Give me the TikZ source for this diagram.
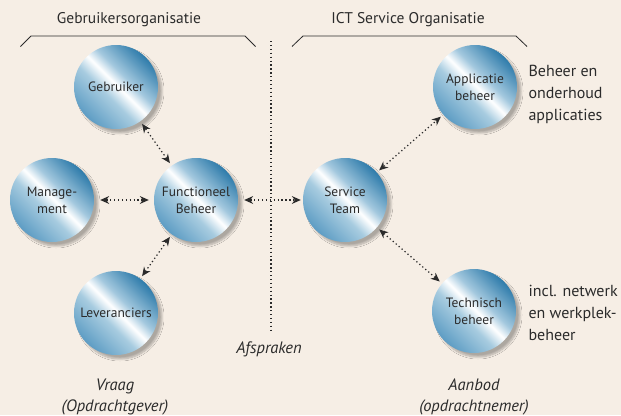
\documentclass[tikz,border=0pt]{standalone}
\usepackage{fontspec}
\setmainfont{PT Sans}
\usetikzlibrary{arrows.meta,shadows.blur}

\definecolor{bg}{HTML}{F6EEE5}
\definecolor{txt}{HTML}{2B2B2B}
\definecolor{ballsw}{HTML}{5E9DC4}
\definecolor{balllt}{HTML}{A8CCE0}
\definecolor{balllt2}{HTML}{A3C8DE}
\definecolor{ballne}{HTML}{2F7CAB}

% diagonal metallic sheen for the circles
\pgfdeclarehorizontalshading{ballshade}{100bp}{%
  color(0bp)=(ballsw); color(25bp)=(ballsw); color(43bp)=(balllt);
  color(51bp)=(white); color(58bp)=(balllt2); color(75bp)=(ballne);
  color(100bp)=(ballne)}

\tikzset{
  ball/.style={circle, minimum size=84pt, inner sep=0pt, shading=ballshade,
    shading angle=45, align=center, text=txt,
    font=\fontsize{13.5}{17}\selectfont,
    blur shadow={shadow xshift=4pt, shadow yshift=-4pt,
      shadow blur steps=8, shadow opacity=30}},
  dots/.style={draw=txt, line width=1.2pt, dash pattern=on 1.3pt off 2.6pt},
  link/.style={dots,
    {Stealth[length=9pt,width=8pt,line width=0pt]}-{Stealth[length=9pt,width=8pt,line width=0pt]},
    shorten <=3pt, shorten >=3pt},
  bracket/.style={draw=txt, line width=0.8pt},
  title/.style={text=txt, font=\fontsize{15.5}{18}\selectfont},
  side/.style={text=txt, align=left, anchor=west,
    font=\fontsize{16}{22}\selectfont},
  note/.style={text=txt, align=center, font=\fontsize{16.5}{21}\selectfont\itshape}
}

\begin{document}
\begin{tikzpicture}[x=1pt,y=-1pt]
  \fill[bg] (0,0) rectangle (621,415);
  \useasboundingbox (0,0) rectangle (621,415);

  % headings and brackets
  \node[title] (tleft) at (129,20) {Gebruikersorganisatie};
  \node[title] (tright) at (408,20) {ICT Service Organisatie};
  \draw[bracket] (20.5,46.5) -- (31,36) -- (245,36) -- (255.5,46.5);
  \draw[bracket] (292,46.5) -- (303,36) -- (516,36) -- (527,46.5);

  % dividing line
  \coordinate (dtop) at (271,41);
  \coordinate (dbot) at (271,332);
  \draw[dots] (dtop) -- (dbot);

  % user organisation
  \node[ball] (geb) at (116,87) {Gebruiker};
  \node[ball] (man) at (52,200) {Manage-\\ment};
  \node[ball] (fb)  at (196,200) {Functioneel\\Beheer};
  \node[ball] (lev) at (116,313) {Leveranciers};

  % service organisation
  \node[ball] (st)  at (345,200) {Service\\Team};
  \node[ball] (ab)  at (475,87) {Applicatie\\beheer};
  \node[ball] (tb)  at (474,311) {Technisch\\beheer};

  % connections
  \draw[link] (geb) -- (fb);
  \draw[link, shorten <=6pt, shorten >=5pt] (man) -- (fb);
  \draw[link, shorten <=6pt, shorten >=2pt] (fb) -- (st);
  \draw[link] (fb) -- (lev);
  \draw[link] (st) -- (ab);
  \draw[link] (st) -- (tb);

  % side notes
  \node[side] (nab) at (525,94) {Beheer en\\onderhoud\\applicaties};
  \node[side] (ntb) at (525,313) {incl. netwerk\\en werkplek-\\beheer};

  % bottom labels
  \node[note] (afs) at (269,349) {Afspraken};
  \node[note] (vr) at (115,397) {Vraag\\(Opdrachtgever)};
  \node[note] (aa) at (474,397) {Aanbod\\(opdrachtnemer)};
\end{tikzpicture}
\end{document}
